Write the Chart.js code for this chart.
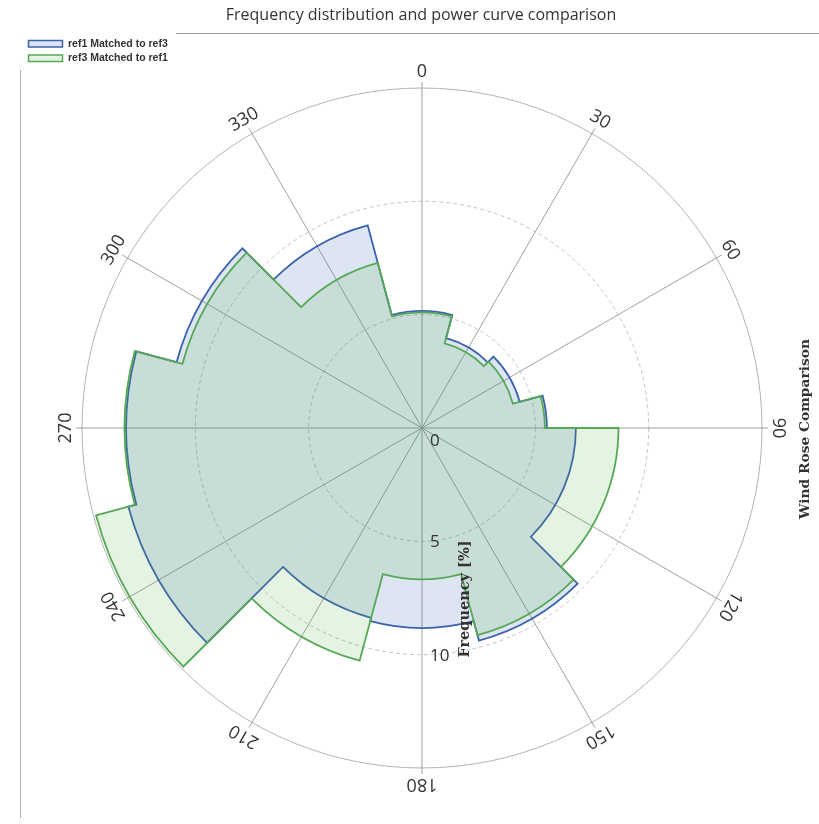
<!DOCTYPE html>
<html>
<head>
<meta charset="utf-8">
<script src="https://cdn.jsdelivr.net/npm/chart.js@4.4.0/dist/chart.umd.min.js"></script>
<style>
  html, body { margin: 0; padding: 0; background: #fff; }
  #wrap { width: 819px; height: 824px; }
</style>
</head>
<body>
<div id="wrap"><canvas id="rose"></canvas></div>
<script>
// sector directions (deg) and frequency per sector [%]
const dirLabels = ['0', '30', '60', '90', '120', '150', '180', '210', '240', '270', '300', '330'];
const ref1Freq = [5.16, 4.10, 4.46, 5.51, 6.79, 9.71, 8.82, 8.67, 13.41, 13.05, 11.21, 9.26];
const ref3Freq = [5.10, 3.86, 4.15, 5.42, 8.67, 9.46, 6.67, 10.63, 14.89, 13.12, 10.94, 7.54];
const radialTicks = [0, 5, 10];
const seriesNames = ['ref1 Matched to ref3', 'ref3 Matched to ref1'];

const blueLine = '#3a62ae';
const greenLine = '#55a955';
const blueFill = 'rgba(58, 98, 176, 0.17)';
const greenFill = 'rgba(82, 172, 66, 0.15)';

// the 90 sector is narrow, the 120 one wide, like in the source tool
const sectorWidth = (c) => c.dataIndex === 3 ? 15 : (c.dataIndex === 4 ? 45 : 30);

const outlinePlugin = {
    id: 'roseOutline',
    afterDatasetDraw(chart, args) {
        const ctx = chart.ctx;
        const ds = chart.data.datasets[args.index];
        ctx.save();
        ctx.beginPath();
        args.meta.data.forEach(a => {
            const p = a.getProps(['x', 'y', 'startAngle', 'endAngle', 'outerRadius'], true);
            ctx.arc(p.x, p.y, p.outerRadius, p.startAngle, p.endAngle);
        });
        ctx.closePath();
        ctx.lineWidth = 1.8;
        ctx.strokeStyle = ds.borderColor;
        ctx.stroke();
        ctx.restore();
    }
};

const decorPlugin = {
    id: 'roseDecor',
    beforeDatasetsDraw(chart) {
        const r = chart.scales.r;
        const ctx = chart.ctx;
        ctx.save();
        ctx.strokeStyle = '#a0a0a0';
        ctx.lineWidth = 1;
        dirLabels.forEach((lab, i) => {
            const a = (i * 360 / dirLabels.length - 90) * Math.PI / 180;
            const len = r.drawingArea + 6;
            ctx.beginPath();
            ctx.moveTo(r.xCenter, r.yCenter);
            ctx.lineTo(r.xCenter + len * Math.cos(a), r.yCenter + len * Math.sin(a));
            ctx.stroke();
        });
        ctx.restore();
    },
    afterDraw(chart) {
        const r = chart.scales.r;
        const ctx = chart.ctx;
        ctx.save();

        // direction labels, turned with the circle
        ctx.fillStyle = '#333';
        ctx.font = '18px "Open Sans"';
        ctx.textAlign = 'center';
        ctx.textBaseline = 'middle';
        dirLabels.forEach((lab, i) => {
            const deg = i * 360 / dirLabels.length;
            const a = (deg - 90) * Math.PI / 180;
            const dist = r.drawingArea + 16;
            ctx.save();
            ctx.translate(r.xCenter + dist * Math.cos(a), r.yCenter + dist * Math.sin(a));
            ctx.rotate(deg * Math.PI / 180);
            ctx.fillText(lab, 0, 0);
            ctx.restore();
        });

        // radial tick labels down the 180 line
        ctx.font = '17px "Open Sans"';
        ctx.textAlign = 'left';
        radialTicks.forEach(v => {
            const d = Math.max(r.getDistanceFromCenterForValue(v), 12);
            ctx.fillText(String(v), r.xCenter + 8, r.yCenter + d + 1);
        });

        // axis titles
        ctx.textAlign = 'center';
        ctx.font = 'bold 14.5px "DejaVu Serif"';
        ctx.save();
        ctx.translate(r.xCenter + 43, r.yCenter + 171);
        ctx.rotate(-Math.PI / 2);
        ctx.fillText('Frequency [%]', 0, 0);
        ctx.restore();
        ctx.font = 'bold 13.8px "DejaVu Serif"';
        ctx.save();
        ctx.translate(805, r.yCenter + 1);
        ctx.rotate(-Math.PI / 2);
        ctx.fillText('Wind Rose Comparison', 0, 0);
        ctx.restore();

        // title and rules
        ctx.font = '16px "Open Sans"';
        ctx.fillText('Frequency distribution and power curve comparison', 421, 15);
        ctx.strokeStyle = '#a0a0a0';
        ctx.lineWidth = 1.2;
        ctx.beginPath();
        ctx.moveTo(176, 33.5);
        ctx.lineTo(819, 33.5);
        ctx.stroke();
        ctx.strokeStyle = '#b0b0b0';
        ctx.lineWidth = 1;
        ctx.beginPath();
        ctx.moveTo(20.5, 70);
        ctx.lineTo(20.5, 818);
        ctx.stroke();

        // legend
        const cols = [[blueLine, blueFill], [greenLine, greenFill]];
        ctx.font = 'bold 10.5px "Liberation Sans"';
        ctx.textAlign = 'left';
        seriesNames.forEach((name, i) => {
            const y = 40.5 + i * 14.5;
            ctx.fillStyle = cols[i][1];
            ctx.fillRect(28.5, y, 34, 6.5);
            ctx.strokeStyle = cols[i][0];
            ctx.lineWidth = 1.5;
            ctx.strokeRect(28.5, y, 34, 6.5);
            ctx.fillStyle = '#333';
            ctx.fillText(name, 68, y + 3.5);
        });
        ctx.restore();
    }
};

window.addEventListener('load', () => {
    new Chart(document.getElementById('rose'), {
        type: 'polarArea',
        data: {
            labels: dirLabels,
            datasets: [
                {
                    label: seriesNames[0],
                    data: ref1Freq,
                    backgroundColor: blueFill,
                    borderColor: blueLine,
                    borderWidth: 0,
                    angle: sectorWidth,
                    order: 1
                },
                {
                    label: seriesNames[1],
                    data: ref3Freq,
                    backgroundColor: greenFill,
                    borderColor: greenLine,
                    borderWidth: 0,
                    angle: sectorWidth,
                    order: 0
                }
            ]
        },
        options: {
            responsive: true,
            maintainAspectRatio: false,
            animation: false,
            layout: { padding: { left: 82, right: 57, top: 88, bottom: 56 } },
            plugins: {
                legend: { display: false },
                tooltip: { enabled: false }
            },
            scales: {
                r: {
                    min: 0,
                    max: 15,
                    startAngle: -15,
                    ticks: { display: false, stepSize: 5 },
                    grid: {
                        circular: true,
                        lineWidth: 1,
                        color: c => c.tick.value === 15 ? '#b2b2b2' : '#c2c2c2'
                    },
                    border: { dash: c => c.tick.value === 15 ? [] : [4, 3] },
                    angleLines: { display: false },
                    pointLabels: { display: false }
                }
            }
        },
        plugins: [decorPlugin, outlinePlugin]
    });
});
</script>
</body>
</html>
